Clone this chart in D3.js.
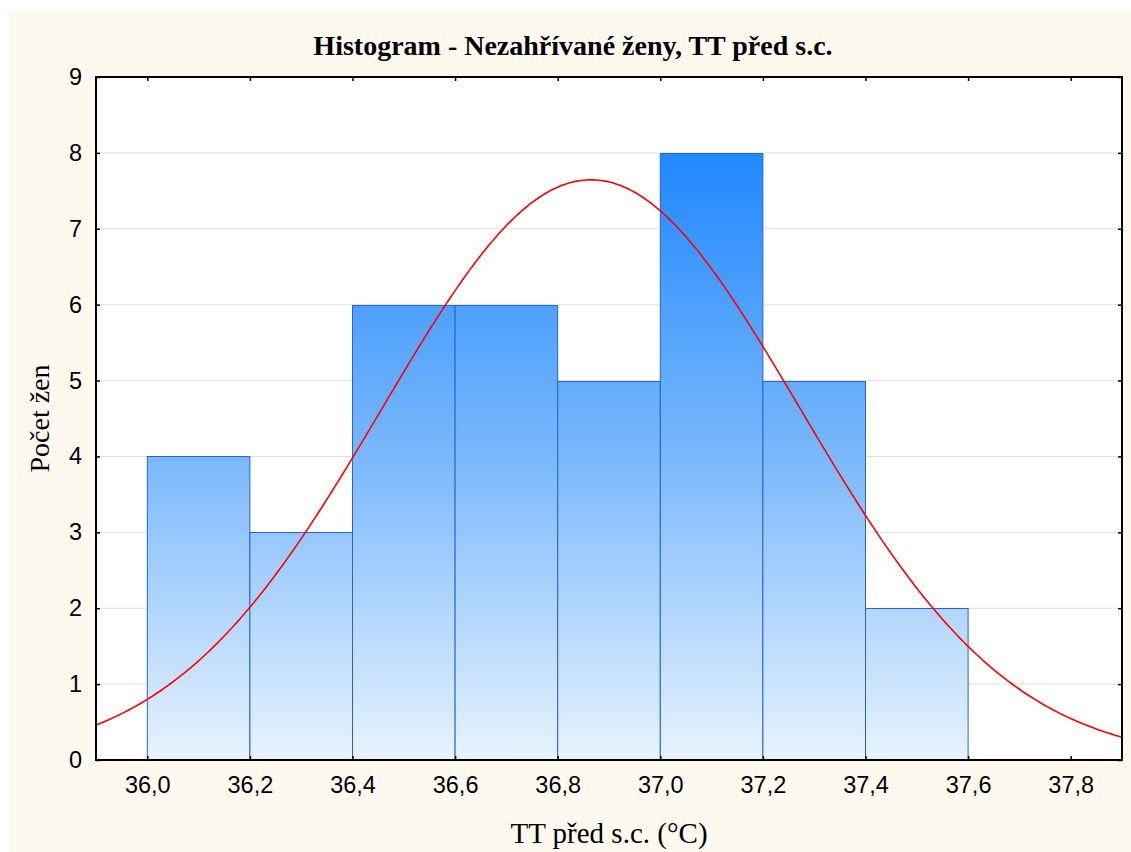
<!DOCTYPE html>
<html>
<head>
<meta charset="utf-8">
<style>
  body { margin: 0; background: #fff; }
  svg { display: block; }
</style>
<title>Histogram - Nezahřívané ženy</title>
</head>
<body>
<script src="https://cdn.jsdelivr.net/npm/d3@7"></script>
<script>

// data //////////////////////////////////////////////////////////////////

var bin_starts = [36.0, 36.2, 36.4, 36.6, 36.8, 37.0, 37.2, 37.4];
var bin_counts = [4, 3, 6, 6, 5, 8, 5, 2];
var bin_width  = 0.2;

var x_ticks = [36.0, 36.2, 36.4, 36.6, 36.8, 37.0, 37.2, 37.4, 37.6, 37.8];
var y_ticks = [0, 1, 2, 3, 4, 5, 6, 7, 8, 9];

// fitted normal curve (mean, sd of the sample), scaled to counts
var fit_mean = 36.865;
var fit_sd   = 0.407;
var fit_n    = 39;

var title   = "Histogram - Nezahřívané ženy, TT před s.c.";
var x_title = "TT před s.c. (°C)";
var y_title = "Počet žen";

// layout ////////////////////////////////////////////////////////////////

var W = 1131, H = 852;
var plot = {left: 96, top: 77, right: 1122, bottom: 760};

var svg = d3.select("body").append("svg")
    .attr("width", W)
    .attr("height", H);

svg.append("rect")
    .attr("x", 9).attr("y", 11)
    .attr("width", W - 9).attr("height", H - 11)
    .attr("fill", "#fef9ef");

var x = d3.scaleLinear()
    .domain([35.9, 37.9])
    .range([plot.left, plot.right]);

var y = d3.scaleLinear()
    .domain([0, 9])
    .range([plot.bottom, plot.top]);

var fmt = v => d3.format(".1f")(v).replace(".", ",");

var defs = svg.append("defs");
var grad = defs.append("linearGradient")
    .attr("id", "barfill")
    .attr("gradientUnits", "userSpaceOnUse")
    .attr("x1", 0).attr("x2", 0)
    .attr("y1", y(9)).attr("y2", y(0));
grad.append("stop").attr("offset", 0).attr("stop-color", "#0a7cff");
grad.append("stop").attr("offset", 0.556).attr("stop-color", "#7ab8fb");
grad.append("stop").attr("offset", 1).attr("stop-color", "#e8f3fe");

defs.append("clipPath").attr("id", "plotclip")
  .append("rect")
    .attr("x", plot.left).attr("y", plot.top)
    .attr("width", plot.right - plot.left)
    .attr("height", plot.bottom - plot.top);

// plot area
svg.append("rect")
    .attr("x", plot.left).attr("y", plot.top)
    .attr("width", plot.right - plot.left)
    .attr("height", plot.bottom - plot.top)
    .attr("fill", "#fff");

// grid
svg.append("g")
  .selectAll("line")
  .data(y_ticks.filter(t => t > 0 && t < 9))
  .join("line")
    .attr("x1", plot.left).attr("x2", plot.right)
    .attr("y1", d => y(d)).attr("y2", d => y(d))
    .attr("stroke", "#e0e0e0")
    .attr("stroke-width", 1);

// bars
svg.append("g")
  .selectAll("rect")
  .data(bin_starts.map((s, i) => ({start: s, count: bin_counts[i]})))
  .join("rect")
    .attr("x", d => x(d.start))
    .attr("y", d => Math.round(y(d.count)) + 0.5)
    .attr("width", d => x(d.start + bin_width) - x(d.start))
    .attr("height", d => plot.bottom - Math.round(y(d.count)))
    .attr("fill", "url(#barfill)")
    .attr("stroke", "#2466d0")
    .attr("stroke-width", 1);

// normal curve
var norm = v => fit_n * bin_width / (fit_sd * Math.sqrt(2 * Math.PI))
    * Math.exp(-0.5 * Math.pow((v - fit_mean) / fit_sd, 2));
var curve_x = d3.range(0, 401).map(i => 35.9 + i * 2.0 / 400);

svg.append("path")
    .attr("clip-path", "url(#plotclip)")
    .attr("d", d3.line().x(v => x(v)).y(v => y(norm(v)))(curve_x))
    .attr("fill", "none")
    .attr("stroke", "#ff0000")
    .attr("stroke-width", 1.6);

// axes (ticks pointing inward on all sides)
var tick_font = "Liberation Sans, Arial, sans-serif";

svg.append("g")
    .attr("transform", `translate(0,${plot.bottom})`)
    .call(d3.axisBottom(x).tickValues(x_ticks).tickFormat(fmt).tickSize(-4).tickPadding(16))
    .call(g => g.select(".domain").remove())
    .call(g => g.selectAll("text").attr("font-size", 23.5).attr("font-family", tick_font).attr("fill", "#000"));

svg.append("g")
    .attr("transform", `translate(0,${plot.top})`)
    .call(d3.axisTop(x).tickValues(x_ticks).tickFormat("").tickSize(-4))
    .call(g => g.select(".domain").remove());

svg.append("g")
    .attr("transform", `translate(${plot.left},0)`)
    .call(d3.axisLeft(y).tickValues(y_ticks).tickSize(-4).tickPadding(14))
    .call(g => g.select(".domain").remove())
    .call(g => g.selectAll("text").attr("font-size", 23.5).attr("font-family", tick_font).attr("fill", "#000"));

svg.append("g")
    .attr("transform", `translate(${plot.right},0)`)
    .call(d3.axisRight(y).tickValues(y_ticks).tickFormat("").tickSize(-4))
    .call(g => g.select(".domain").remove());

svg.selectAll(".tick line").attr("stroke", "#000").attr("stroke-width", 1.5);

// frame
svg.append("rect")
    .attr("x", plot.left).attr("y", plot.top)
    .attr("width", plot.right - plot.left)
    .attr("height", plot.bottom - plot.top)
    .attr("fill", "none")
    .attr("stroke", "#000")
    .attr("stroke-width", 2);

// titles
var serif = "Liberation Serif, Times New Roman, serif";

svg.append("text")
    .attr("x", 573).attr("y", 55)
    .attr("text-anchor", "middle")
    .attr("font-family", serif)
    .attr("font-weight", "bold")
    .attr("font-size", 28)
    .text(title);

svg.append("text")
    .attr("x", (plot.left + plot.right) / 2).attr("y", 843)
    .attr("text-anchor", "middle")
    .attr("font-family", serif)
    .attr("font-size", 29)
    .text(x_title);

svg.append("text")
    .attr("transform", `translate(49,${(plot.top + plot.bottom) / 2}) rotate(-90)`)
    .attr("text-anchor", "middle")
    .attr("font-family", serif)
    .attr("font-size", 28)
    .text(y_title);

</script>
</body>
</html>
